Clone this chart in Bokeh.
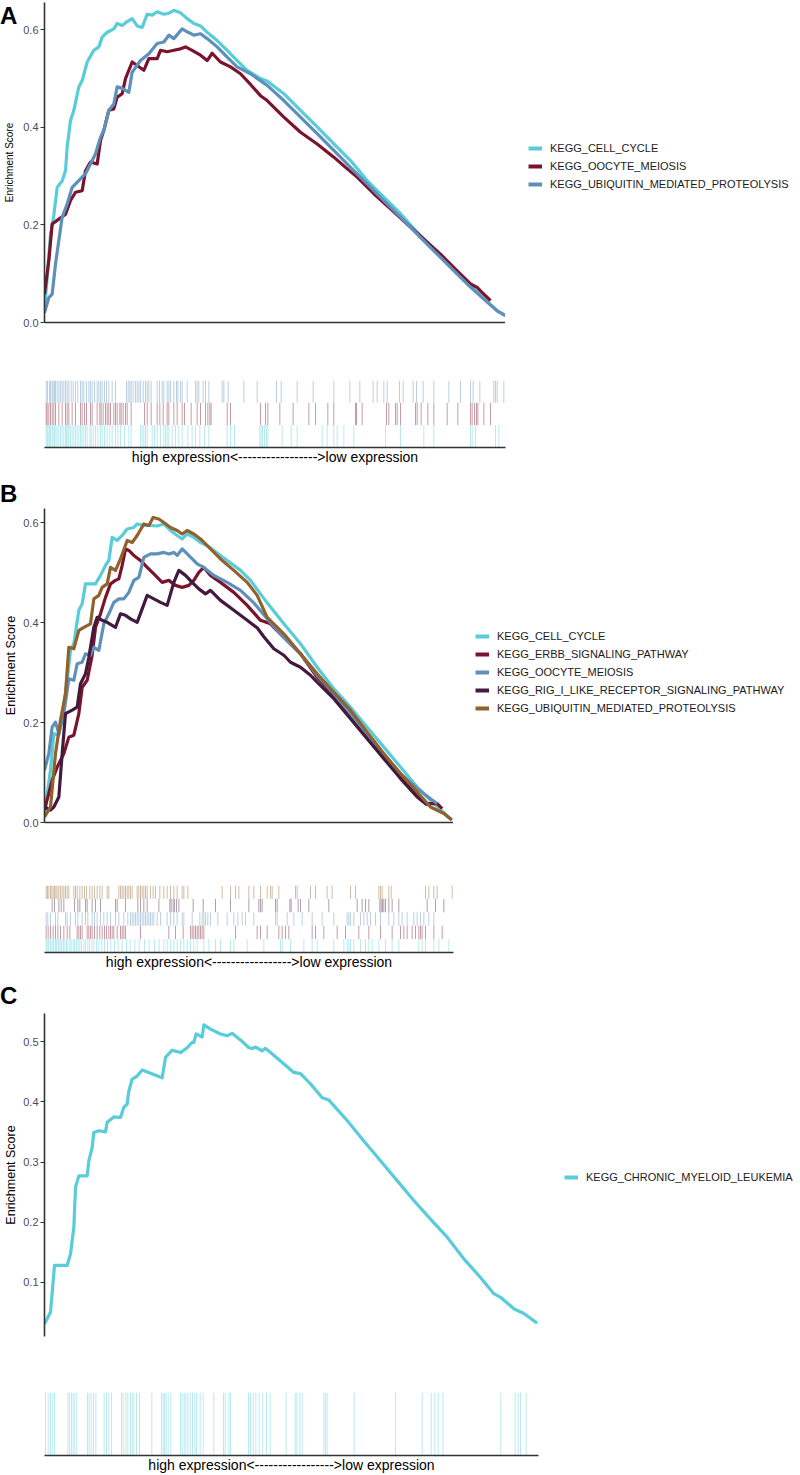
from bokeh.plotting import figure
from bokeh.models import (Range1d, FixedTicker, PrintfTickFormatter, Legend,
                          LegendItem, Div)
from bokeh.layouts import column, row
from bokeh.embed import file_html
from bokeh.resources import INLINE

FONT = "Liberation Sans"
CYAN = "#58CDD9"
MAROON = "#7A142C"
BLUE = "#5D90BA"
PURPLE = "#431A3D"
BROWN = "#91612D"

X_LABEL = "high expression<-----------------" + ">low expression"

# ---------------- Panel A ----------------
a_names = ["KEGG_CELL_CYCLE", "KEGG_OOCYTE_MEIOSIS", "KEGG_UBIQUITIN_MEDIATED_PROTEOLYSIS"]
a_n_genes = 1383

a_cell_cycle_rank = [0, 18, 28, 38, 53, 63, 68, 78, 88, 103, 113, 128, 148, 163, 173, 188, 208, 218, 233, 248,
                     263, 278, 293, 308, 323, 338, 358, 373, 388, 408, 428, 448, 468, 488, 518, 548, 578, 608, 648, 668,
                     718, 768, 818, 868, 918, 968, 1018, 1068, 1118, 1168, 1218, 1268, 1318, 1358, 1383]
a_cell_cycle_es = [0.024, 0.18, 0.22, 0.277, 0.29, 0.311, 0.36, 0.414, 0.435, 0.483, 0.496, 0.534, 0.558, 0.565, 0.585,
                   0.595, 0.602, 0.613, 0.609, 0.617, 0.623, 0.608, 0.605, 0.632, 0.63, 0.637, 0.632, 0.634, 0.64, 0.635,
                   0.623, 0.613, 0.608, 0.595, 0.578, 0.558, 0.537, 0.517, 0.5, 0.495, 0.469, 0.435, 0.401, 0.366, 0.332,
                   0.291, 0.257, 0.223, 0.185, 0.151, 0.116, 0.082, 0.049, 0.024, 0.014]

a_oocyte_rank = [0, 13, 23, 43, 63, 78, 93, 113, 123, 138, 158, 168, 178, 193, 208, 218, 233, 243, 263, 298,
                 313, 338, 348, 368, 388, 408, 423, 443, 468, 488, 503, 528, 558, 588, 618, 648, 668, 718, 768, 818,
                 868, 903, 938, 988, 1038, 1088, 1138, 1188, 1238, 1278, 1298, 1308, 1338]
a_oocyte_es = [0.058, 0.127, 0.202, 0.212, 0.222, 0.25, 0.267, 0.27, 0.311, 0.329, 0.325, 0.373, 0.394, 0.435, 0.438,
               0.462, 0.469, 0.5, 0.534, 0.517, 0.541, 0.541, 0.558, 0.555, 0.558, 0.561, 0.565, 0.558, 0.548, 0.537,
               0.552, 0.534, 0.524, 0.51, 0.488, 0.465, 0.455, 0.421, 0.39, 0.366, 0.339, 0.318, 0.298, 0.264, 0.233,
               0.202, 0.171, 0.14, 0.106, 0.079, 0.072, 0.065, 0.045]

a_ubiquitin_rank = [0, 13, 23, 33, 43, 53, 68, 83, 103, 123, 138, 153, 168, 178, 193, 208, 218, 233, 253, 263,
                    288, 313, 338, 358, 373, 388, 413, 428, 448, 468, 488, 518, 548, 578, 618, 668, 718, 768, 818, 868,
                    918, 968, 1018, 1068, 1118, 1168, 1218, 1268, 1318, 1358, 1383]
a_ubiquitin_es = [0.02, 0.051, 0.058, 0.12, 0.168, 0.216, 0.243, 0.277, 0.291, 0.305, 0.325, 0.346, 0.38, 0.394, 0.435,
                  0.448, 0.483, 0.48, 0.472, 0.513, 0.537, 0.551, 0.572, 0.575, 0.589, 0.582, 0.602, 0.596, 0.589, 0.592,
                  0.582, 0.565, 0.544, 0.524, 0.51, 0.486, 0.455, 0.421, 0.387, 0.353, 0.318, 0.284, 0.25, 0.216, 0.181,
                  0.147, 0.113, 0.079, 0.048, 0.024, 0.014]

a_hits_cell_cycle = [5, 8, 11, 15, 18, 23, 26, 30, 34, 38, 43, 48, 53, 58, 63, 66, 70, 73, 78, 83, 88, 93, 98, 103, 108,
                     113, 118, 123, 128, 136, 140, 146, 153, 160, 168, 173, 180, 188, 196, 203, 213, 220, 228, 240, 253,
                     260, 288, 293, 298, 303, 308, 323, 330, 338, 348, 358, 363, 368, 373, 383, 393, 403, 413, 430, 443,
                     453, 466, 480, 493, 548, 558, 570, 646, 650, 654, 660, 666, 670, 713, 740, 758, 833, 848, 868, 878,
                     898, 928, 1023, 1068, 1138, 1168, 1278, 1283, 1293, 1353, 1363]
a_hits_oocyte = [5, 8, 13, 18, 23, 28, 33, 43, 53, 63, 68, 73, 83, 93, 108, 113, 120, 126, 138, 143, 158, 166, 170, 176,
                 183, 188, 193, 198, 208, 213, 218, 226, 230, 236, 243, 248, 260, 300, 308, 320, 338, 346, 356, 368, 373,
                 388, 398, 413, 420, 440, 458, 468, 483, 490, 496, 500, 548, 558, 648, 663, 670, 706, 746, 793, 813, 850,
                 868, 933, 936, 953, 1026, 1033, 1053, 1058, 1068, 1113, 1118, 1130, 1150, 1168, 1208, 1240, 1278, 1283,
                 1290, 1296, 1300, 1318, 1338]
a_hits_ubiquitin = [5, 9, 15, 18, 23, 26, 30, 33, 38, 43, 48, 53, 58, 63, 68, 73, 80, 86, 93, 100, 108, 113, 118, 126,
                    133, 138, 143, 150, 158, 163, 168, 173, 180, 186, 193, 203, 213, 246, 251, 256, 260, 266, 273, 278,
                    283, 288, 296, 303, 308, 313, 320, 338, 345, 353, 358, 368, 373, 378, 388, 396, 400, 408, 413, 428,
                    453, 458, 463, 476, 483, 493, 533, 538, 551, 598, 638, 696, 710, 758, 806, 868, 916, 946, 986, 998,
                    1018, 1028, 1065, 1076, 1106, 1116, 1136, 1168, 1213, 1248, 1278, 1286, 1306, 1348, 1353, 1358, 1378]

# ---------------- Panel B ----------------
b_names = ["KEGG_CELL_CYCLE", "KEGG_ERBB_SIGNALING_PATHWAY", "KEGG_OOCYTE_MEIOSIS",
           "KEGG_RIG_I_LIKE_RECEPTOR_SIGNALING_PATHWAY", "KEGG_UBIQUITIN_MEDIATED_PROTEOLYSIS"]
b_n_genes = 1227

b_cell_cycle_rank = [0, 18, 28, 43, 53, 68, 78, 88, 103, 113, 123, 153, 168, 183, 193, 203, 218, 233, 248, 268,
                     278, 298, 318, 338, 358, 378, 398, 413, 428, 448, 468, 488, 508, 548, 588, 618, 668, 718, 768, 818,
                     868, 918, 968, 1018, 1068, 1118, 1168, 1222]
b_cell_cycle_es = [0.018, 0.105, 0.178, 0.175, 0.211, 0.285, 0.345, 0.358, 0.425, 0.438, 0.478, 0.478, 0.495, 0.515,
                   0.525, 0.571, 0.565, 0.575, 0.588, 0.591, 0.598, 0.595, 0.595, 0.594, 0.598, 0.585, 0.575, 0.568,
                   0.578, 0.571, 0.561, 0.555, 0.545, 0.525, 0.505, 0.485, 0.44, 0.398, 0.358, 0.311, 0.268, 0.231,
                   0.191, 0.151, 0.111, 0.071, 0.038, 0.005]

b_erbb_rank = [0, 23, 38, 58, 73, 88, 103, 113, 128, 143, 153, 168, 183, 198, 213, 223, 233, 243, 253, 268,
               288, 308, 328, 353, 373, 393, 413, 433, 448, 463, 478, 498, 528, 568, 608, 648, 678, 718, 768, 818,
               868, 918, 968, 1018, 1068, 1118, 1148, 1178, 1193]
b_erbb_es = [0.025, 0.085, 0.111, 0.138, 0.171, 0.175, 0.218, 0.271, 0.285, 0.335, 0.391, 0.418, 0.451, 0.478, 0.485,
             0.488, 0.515, 0.548, 0.545, 0.535, 0.525, 0.511, 0.498, 0.481, 0.485, 0.475, 0.471, 0.475, 0.485, 0.501,
             0.511, 0.495, 0.481, 0.461, 0.435, 0.405, 0.398, 0.371, 0.338, 0.291, 0.255, 0.215, 0.171, 0.131, 0.091,
             0.058, 0.038, 0.038, 0.028]

b_oocyte_rank = [0, 13, 23, 33, 43, 58, 73, 88, 98, 113, 123, 138, 148, 163, 178, 193, 208, 223, 238, 253,
                 268, 283, 298, 318, 338, 358, 373, 388, 398, 413, 428, 443, 458, 478, 508, 548, 588, 628, 668, 718,
                 768, 818, 868, 918, 968, 1018, 1068, 1118, 1163, 1178]
b_oocyte_es = [0.105, 0.138, 0.191, 0.201, 0.178, 0.218, 0.288, 0.285, 0.318, 0.321, 0.338, 0.335, 0.351, 0.345, 0.398,
               0.418, 0.441, 0.448, 0.448, 0.461, 0.485, 0.491, 0.531, 0.538, 0.538, 0.541, 0.538, 0.541, 0.535, 0.548,
               0.538, 0.528, 0.518, 0.511, 0.495, 0.481, 0.465, 0.44, 0.408, 0.371, 0.338, 0.295, 0.258, 0.218, 0.175,
               0.135, 0.098, 0.068, 0.045, 0.038]

b_rig_rank = [0, 18, 28, 43, 53, 63, 83, 98, 108, 123, 133, 148, 158, 173, 188, 213, 228, 243, 258, 278,
              293, 308, 328, 348, 368, 378, 388, 403, 423, 443, 463, 483, 498, 528, 568, 608, 638, 658, 688, 718,
              738, 768, 798, 818, 868, 918, 968, 1018, 1068, 1118, 1148]
b_rig_es = [0.031, 0.025, 0.031, 0.051, 0.138, 0.218, 0.225, 0.231, 0.278, 0.298, 0.331, 0.391, 0.411, 0.405, 0.401,
            0.391, 0.418, 0.415, 0.408, 0.401, 0.428, 0.455, 0.448, 0.441, 0.435, 0.458, 0.481, 0.505, 0.495, 0.481,
            0.468, 0.458, 0.465, 0.445, 0.425, 0.405, 0.39, 0.372, 0.348, 0.335, 0.321, 0.311, 0.295, 0.281, 0.248,
            0.208, 0.168, 0.128, 0.088, 0.051, 0.035]

b_ubiquitin_rank = [0, 18, 33, 48, 63, 73, 88, 103, 118, 138, 148, 163, 173, 188, 198, 213, 228, 248, 263, 278,
                    298, 313, 326, 343, 358, 378, 398, 413, 428, 448, 468, 498, 528, 568, 608, 638, 668, 718, 768, 818,
                    868, 918, 968, 1018, 1068, 1118, 1158, 1198, 1222]
b_ubiquitin_es = [0.011, 0.031, 0.138, 0.205, 0.258, 0.351, 0.348, 0.385, 0.391, 0.398, 0.448, 0.455, 0.471, 0.478,
                  0.511, 0.505, 0.528, 0.565, 0.561, 0.575, 0.598, 0.595, 0.611, 0.608, 0.601, 0.591, 0.585, 0.578,
                  0.585, 0.578, 0.568, 0.548, 0.528, 0.505, 0.481, 0.455, 0.411, 0.378, 0.338, 0.298, 0.261, 0.225,
                  0.181, 0.138, 0.098, 0.061, 0.031, 0.018, 0.005]

b_hits_cell_cycle = [5, 8, 12, 17, 20, 25, 28, 33, 36, 41, 44, 49, 52, 57, 61, 66, 70, 76, 80, 86, 90, 96, 101, 106,
                     111, 118, 123, 130, 135, 142, 148, 156, 163, 172, 180, 189, 199, 210, 221, 233, 246, 257, 271, 284,
                     300, 314, 330, 344, 358, 368, 378, 388, 398, 408, 418, 428, 438, 448, 458, 478, 493, 513, 528, 558,
                     568, 608, 658, 708, 713, 738, 778, 803, 818, 868, 898, 908, 913, 918, 928, 948, 963, 973, 983, 1003,
                     1023, 1043, 1063, 1123, 1133, 1143, 1168, 1183, 1213]
b_hits_erbb = [5, 11, 18, 26, 33, 40, 48, 58, 68, 76, 98, 103, 108, 113, 128, 133, 138, 143, 150, 158, 166, 173, 180,
               186, 193, 198, 203, 208, 218, 228, 233, 238, 243, 288, 373, 393, 416, 438, 443, 448, 453, 458, 463, 468,
               473, 478, 573, 638, 648, 668, 703, 713, 723, 733, 803, 813, 838, 878, 903, 943, 973, 1008, 1043, 1068,
               1078, 1088, 1103, 1113, 1123, 1128, 1133, 1143, 1168, 1193]
b_hits_oocyte = [5, 10, 18, 33, 40, 63, 68, 78, 93, 100, 113, 123, 130, 143, 150, 158, 168, 178, 188, 198, 213, 223,
                 238, 250, 258, 263, 268, 273, 278, 283, 288, 293, 298, 303, 308, 313, 318, 323, 328, 338, 348, 368,
                 378, 388, 398, 413, 418, 443, 466, 473, 478, 483, 490, 498, 520, 548, 568, 580, 593, 603, 628, 693,
                 698, 728, 748, 773, 803, 833, 868, 908, 913, 918, 928, 948, 958, 968, 978, 993, 1008, 1033, 1048,
                 1063, 1073, 1088, 1108, 1118, 1128, 1138, 1153, 1168]
b_hits_rig = [23, 30, 43, 50, 58, 90, 100, 106, 123, 128, 143, 153, 168, 213, 218, 243, 280, 288, 298, 308, 343, 376,
              380, 386, 390, 396, 403, 446, 476, 513, 558, 613, 643, 648, 653, 693, 698, 736, 740, 761, 768, 793, 853,
              938, 953, 963, 973, 1006, 1010, 1014, 1018, 1023, 1033, 1043, 1063, 1148, 1173, 1198]
b_hits_ubiquitin = [5, 9, 13, 18, 22, 26, 30, 34, 38, 43, 48, 53, 58, 63, 68, 73, 88, 93, 98, 106, 113, 120, 126, 136,
                    143, 150, 158, 166, 173, 188, 193, 223, 228, 233, 238, 243, 248, 253, 258, 263, 278, 283, 288, 293,
                    298, 303, 308, 318, 326, 333, 346, 358, 368, 378, 388, 398, 413, 418, 430, 533, 558, 573, 583, 613,
                    628, 648, 668, 678, 683, 703, 753, 758, 798, 813, 848, 863, 918, 933, 1003, 1008, 1013, 1033, 1040,
                    1143, 1153, 1168, 1178, 1223]

# ---------------- Panel C ----------------
c_names = ["KEGG_CHRONIC_MYELOID_LEUKEMIA"]
c_n_genes = 1482

c_cml_rank = [0, 18, 30, 68, 78, 88, 93, 103, 128, 133, 143, 148, 163, 183, 188, 208, 228, 238, 248, 253,
              263, 278, 293, 353, 363, 383, 408, 428, 443, 448, 455, 473, 478, 498, 528, 548, 563, 588, 613, 623,
              633, 653, 663, 678, 708, 748, 768, 798, 833, 853, 908, 958, 1008, 1058, 1108, 1158, 1208, 1258, 1308,
              1348, 1368, 1408, 1438, 1478]
c_cml_es = [0.031, 0.05, 0.128, 0.128, 0.147, 0.191, 0.258, 0.277, 0.277, 0.302, 0.324, 0.349, 0.352, 0.35, 0.366,
            0.375, 0.374, 0.391, 0.396, 0.418, 0.438, 0.443, 0.453, 0.44, 0.474, 0.486, 0.482, 0.49, 0.499, 0.499,
            0.513, 0.508, 0.528, 0.521, 0.513, 0.51, 0.514, 0.503, 0.49, 0.489, 0.491, 0.485, 0.489, 0.482, 0.468,
            0.449, 0.447, 0.43, 0.407, 0.403, 0.369, 0.335, 0.302, 0.269, 0.236, 0.205, 0.175, 0.139, 0.108, 0.081,
            0.075, 0.056, 0.048, 0.032]
c_hits_cml = [3, 11, 18, 25, 30, 70, 75, 81, 86, 91, 97, 129, 134, 140, 147, 154, 179, 186, 193, 201, 231, 236, 244,
              250, 258, 263, 268, 276, 285, 322, 351, 356, 360, 365, 371, 379, 408, 413, 419, 424, 430, 437, 444, 451,
              456, 467, 476, 508, 537, 542, 553, 558, 612, 618, 626, 634, 644, 655, 666, 677, 725, 752, 757, 766, 773,
              838, 843, 848, 929, 1053, 1133, 1160, 1171, 1181, 1195, 1369, 1412, 1421, 1428, 1445]

PAGE_W = 800
LEFT = 44
NAN = float("nan")


def base_figure(width, height, x_range, y_range, left, right, top, bottom,
                x_loc="below", y_loc="left"):
    p = figure(width=width, height=height, title=None,
               x_range=x_range, y_range=y_range,
               output_backend="svg", toolbar_location=None,
               x_axis_location=x_loc, y_axis_location=y_loc,
               min_border_left=left, min_border_right=right,
               min_border_top=top, min_border_bottom=bottom)
    if "frame_align" in p.properties():
        p.frame_align = False
    p.outline_line_color = None
    p.xgrid.visible = False
    p.ygrid.visible = False
    p.background_fill_color = "white"
    p.border_fill_color = "white"
    return p


def bare_x_axis(xa):
    xa.ticker = FixedTicker(ticks=[])
    xa.major_tick_out = 0
    xa.major_tick_in = 0
    xa.minor_tick_out = 0
    xa.minor_tick_in = 0
    xa.major_label_standoff = 0
    xa.major_label_text_font_size = "0px"
    xa.axis_line_color = "#333333"
    xa.axis_line_width = 1.6


def es_panel(n_genes, y_lo, y_hi, ticks, frame_w, top, frame_h, bottom, series,
             legend_x, legend_bottom, title_size, title_standoff, x_line=True):
    height = top + frame_h + bottom
    p = base_figure(LEFT + frame_w, height, Range1d(0, n_genes), Range1d(y_lo, y_hi),
                    LEFT, 0, top, bottom, x_loc="below" if x_line else None)
    ya = p.yaxis[0]
    ya.ticker = FixedTicker(ticks=ticks)
    ya.formatter = PrintfTickFormatter(format="%.1f")
    ya.major_tick_out = 4
    ya.major_tick_in = 0
    ya.minor_tick_out = 0
    ya.minor_tick_in = 0
    ya.major_tick_line_color = "#333333"
    ya.major_tick_line_width = 1.1
    ya.axis_line_color = "#333333"
    ya.axis_line_width = 1.6
    ya.major_label_text_font = FONT
    ya.major_label_text_font_size = "11px"
    ya.major_label_text_color = "#4D4D4D"
    ya.major_label_standoff = 2
    ya.axis_label = "Enrichment Score"
    ya.axis_label_text_font = FONT
    ya.axis_label_text_font_size = title_size
    ya.axis_label_text_font_style = "normal"
    ya.axis_label_text_color = "#000000"
    ya.axis_label_standoff = title_standoff
    if x_line:
        bare_x_axis(p.xaxis[0])
    for name, xs, ys, col in series:
        p.line(xs, ys, line_color=col, line_width=3.2, line_join="round")

    # legend lives in its own blank figure to the right of the plot
    lw = PAGE_W - LEFT - frame_w
    lg = base_figure(lw, height, Range1d(0, 1), Range1d(0, 1), 0, 0, 0, 0,
                     x_loc=None, y_loc=None)
    items = []
    for name, xs, ys, col in series:
        key = lg.line([NAN], [NAN], line_color=col, line_width=4)  # key-only renderer
        items.append(LegendItem(label=name, renderers=[key]))
    leg = Legend(items=items, location=(legend_x, height - legend_bottom), orientation="vertical",
                 glyph_width=14, glyph_height=18, label_height=18, label_standoff=8,
                 spacing=0, padding=0, margin=0, border_line_color=None,
                 background_fill_alpha=0, label_text_font=FONT,
                 label_text_font_size="11px", label_text_color="#1A1A1A")
    lg.add_layout(leg)
    return row(p, lg)


def rug_plot(n_genes, frame_w, top, frame_h, bottom, hit_sets):
    p = base_figure(PAGE_W, top + frame_h + bottom, Range1d(0, n_genes), Range1d(0, len(hit_sets)),
                    LEFT, PAGE_W - LEFT - frame_w, top, bottom, y_loc=None)
    xa = p.xaxis[0]
    bare_x_axis(xa)
    xa.axis_label = X_LABEL
    xa.axis_label_text_font = FONT
    xa.axis_label_text_font_size = "14px"
    xa.axis_label_text_font_style = "normal"
    xa.axis_label_text_color = "#000000"
    xa.axis_label_standoff = 1
    for band, (hits, col) in enumerate(hit_sets):
        p.segment(x0=hits, y0=[band] * len(hits), x1=hits, y1=[band + 1] * len(hits),
                  line_color=col, line_alpha=0.42, line_width=1)
    return p


def letter(text, top_in_prev, prev_height):
    # zero-net-height overlay for the panel letter, drawn over the previous block
    return Div(text=text, width=26, height=26,
               margin=(top_in_prev - prev_height, 0, prev_height - top_in_prev - 26, 0),
               styles={"font-family": FONT, "font-size": "24px", "font-weight": "bold",
                       "line-height": "24px", "color": "#000000"})


# legend_bottom: distance from block top to legend bottom edge
blockA = es_panel(a_n_genes, 0.0, 0.656, [0.0, 0.2, 0.4, 0.6], 461, 2, 320, 10,
                  [(a_names[0], a_cell_cycle_rank, a_cell_cycle_es, CYAN),
                   (a_names[1], a_oocyte_rank, a_oocyte_es, MAROON),
                   (a_names[2], a_ubiquitin_rank, a_ubiquitin_es, BLUE)],
                  23, 193, "10px", 5)
rugA = rug_plot(a_n_genes, 461, 48, 67, 23,
                [(a_hits_cell_cycle, CYAN), (a_hits_oocyte, MAROON), (a_hits_ubiquitin, BLUE)])

blockB = es_panel(b_n_genes, 0.0, 0.629, [0.0, 0.2, 0.4, 0.6], 409, 38, 314, 10,
                  [(b_names[0], b_cell_cycle_rank, b_cell_cycle_es, CYAN),
                   (b_names[1], b_erbb_rank, b_erbb_es, MAROON),
                   (b_names[2], b_oocyte_rank, b_oocyte_es, BLUE),
                   (b_names[3], b_rig_rank, b_rig_es, PURPLE),
                   (b_names[4], b_ubiquitin_rank, b_ubiquitin_es, BROWN)],
                  22, 247, "12.5px", 2)
rugB = rug_plot(b_n_genes, 409, 53, 67, 23,
                [(b_hits_cell_cycle, CYAN), (b_hits_erbb, MAROON), (b_hits_oocyte, BLUE),
                 (b_hits_rig, PURPLE), (b_hits_ubiquitin, BROWN)])

blockC = es_panel(c_n_genes, 0.0098, 0.547, [0.1, 0.2, 0.3, 0.4, 0.5], 494, 38, 323, 10,
                  [(c_names[0], c_cml_rank, c_cml_es, CYAN)],
                  26, 211, "12.5px", 2, x_line=False)
rugC = rug_plot(c_n_genes, 494, 46, 66, 17, [(c_hits_cml, CYAN)])

layout = column(blockA, letter("A", 4, 332), rugA,
                blockB, letter("B", 12, 362), rugB,
                blockC, letter("C", 9, 371), rugC)
open("out.html", "w").write(file_html(layout, INLINE))
